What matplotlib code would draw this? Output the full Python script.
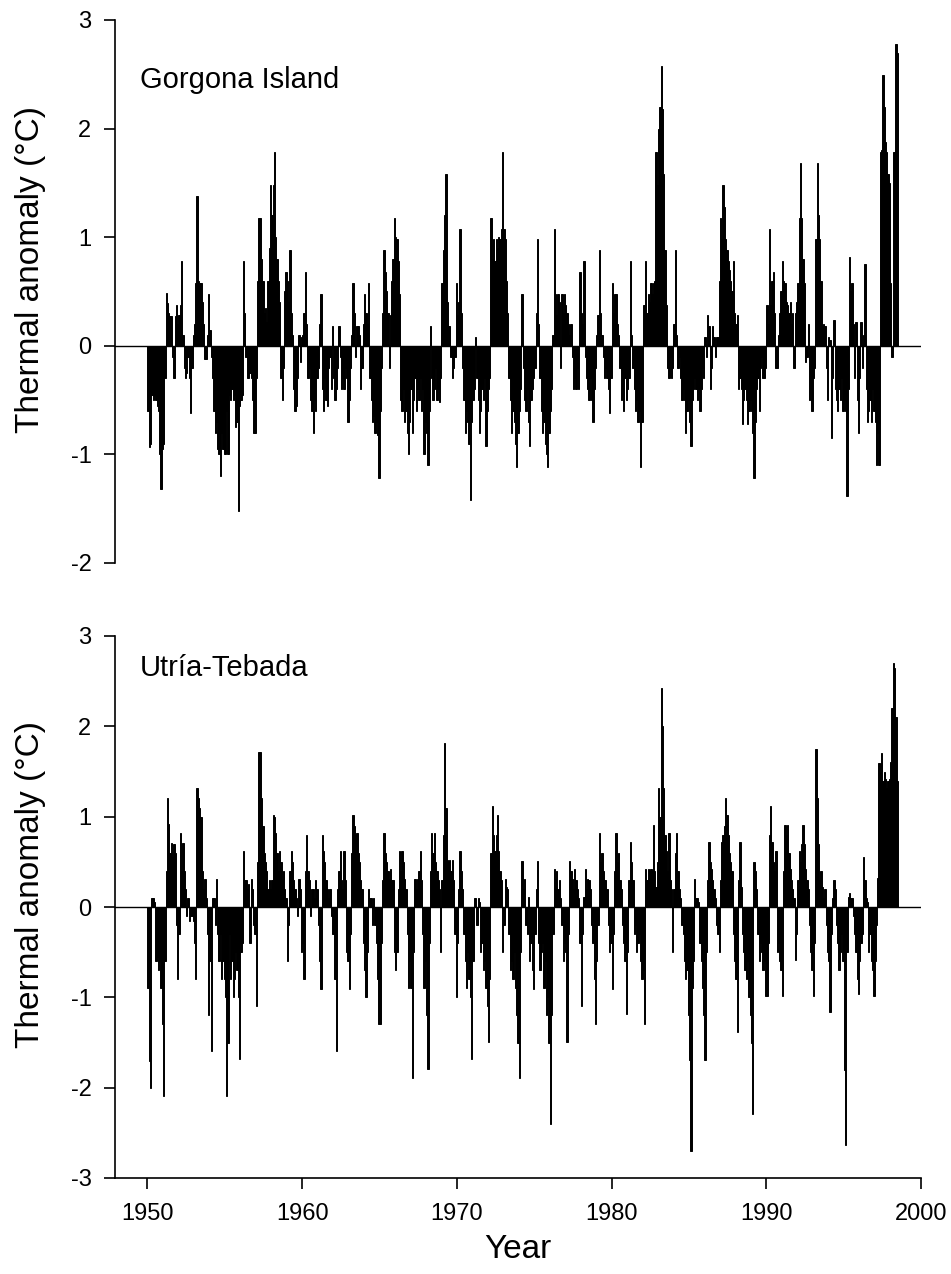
import matplotlib
matplotlib.use("Agg")
import matplotlib.pyplot as plt
import numpy as np

plt.rcParams['font.family'] = ['Liberation Sans', 'DejaVu Sans']

start_year = 1950
year_ticks = [1950, 1960, 1970, 1980, 1990, 2000]
top_yticks = [-2, -1, 0, 1, 2, 3]
bottom_yticks = [-3, -2, -1, 0, 1, 2, 3]
site_names = ["Gorgona Island", "Utría-Tebada"]

# Monthly thermal anomalies (°C), Jan 1950 onward, one row per year
gorgona = [
    -0.60, -0.93, -0.90, -0.45, -0.50, -0.45, -0.50, -0.55, -0.60, -1.00, -1.32, -0.95,  # 1950
    -0.90, -0.30, 0.49, 0.39, 0.30, 0.27, 0.27, -0.10, -0.30, 0.27, 0.38, 0.20,  # 1951
    0.28, 0.38, 0.78, 0.10, -0.20, -0.30, -0.25, -0.10, -0.30, -0.62, -0.20, 0.10,  # 1952
    0.20, 0.58, 1.38, 0.60, 0.58, 0.58, 0.40, 0.20, -0.12, -0.12, 0.10, 0.48,  # 1953
    0.15, -0.10, -0.30, -0.60, -0.80, -0.70, -0.95, -1.00, -1.20, -0.80, -0.95, -1.00,  # 1954
    -1.00, -0.60, -1.00, -0.45, -0.50, -0.40, -0.50, -0.45, -0.75, -0.70, -1.52, -0.55,  # 1955
    -0.50, -0.45, 0.78, 0.30, -0.10, -0.30, -0.30, -0.25, -0.30, -0.50, -0.80, -0.80,  # 1956
    -0.30, 0.60, 1.18, 1.18, 0.80, 0.60, 0.30, 0.35, 0.22, 0.60, 0.90, 1.48,  # 1957
    1.20, 1.48, 1.78, 1.00, 0.80, 0.60, 0.40, -0.30, -0.50, -0.20, 0.50, 0.68,  # 1958
    0.60, 0.40, 0.88, 0.30, 0.10, -0.40, -0.60, -0.55, -0.30, 0.10, -0.15, 0.08,  # 1959
    0.10, 0.30, 0.68, 0.20, -0.30, -0.20, -0.50, -0.60, -0.80, -0.50, -0.60, -0.30,  # 1960
    -0.20, 0.20, 0.48, -0.40, -0.60, -0.30, -0.50, -0.55, -0.20, -0.10, -0.40, 0.18,  # 1961
    -0.30, -0.50, -0.40, -0.20, 0.18, -0.10, -0.40, -0.30, -0.40, -0.20, -0.30, -0.70,  # 1962
    -0.50, -0.20, 0.10, 0.58, 0.30, -0.10, 0.18, 0.18, 0.10, -0.40, -0.20, 0.20,  # 1963
    0.48, 0.30, 0.20, 0.58, -0.30, -0.50, -0.70, -0.65, -0.80, -0.70, -0.82, -1.22,  # 1964
    -0.60, -0.20, 0.30, 0.88, 0.68, 0.50, 0.30, -0.20, 0.28, 0.60, 0.80, 1.18,  # 1965
    1.00, 0.98, 0.78, 0.48, -0.50, -0.60, -0.40, -0.70, -0.60, -0.80, -1.00, -0.70,  # 1966
    -0.40, -0.80, -0.50, -0.30, -0.60, -0.40, -0.50, -0.30, -0.60, -0.40, -1.00, -0.70,  # 1967
    -0.80, -1.10, -0.60, 0.18, -0.30, -0.50, -0.40, -0.20, -0.50, -0.40, -0.52, -0.30,  # 1968
    0.58, 0.88, 1.20, 1.58, 0.40, 0.18, 0.18, -0.10, -0.30, -0.20, -0.10, 0.58,  # 1969
    0.28, 0.40, 1.08, 0.30, -0.20, -0.50, -0.80, -0.60, -0.70, -0.90, -1.42, -0.70,  # 1970
    -0.50, -0.40, 0.08, -0.30, -0.50, -0.80, -0.60, -0.40, -0.50, -0.30, -0.92, -0.60,  # 1971
    -0.40, -0.30, 1.18, 0.80, 0.98, 0.78, 0.98, 0.90, 1.00, 0.98, 1.08, 1.78,  # 1972
    1.08, 0.98, 0.60, 0.30, -0.30, -0.50, -0.80, -0.60, -0.70, -0.90, -1.12, -0.80,  # 1973
    -0.60, -0.40, 0.48, -0.20, -0.50, -0.60, -0.40, -0.70, -0.92, -0.50, -0.40, -0.30,  # 1974
    -0.20, 0.30, 0.98, 0.20, -0.30, -0.60, -0.80, -0.70, -0.90, -1.00, -1.12, -0.80,  # 1975
    -0.60, -0.40, 0.10, 1.08, 0.48, 0.28, 0.48, 0.40, -0.20, 0.48, 0.30, 0.48,  # 1976
    0.38, 0.30, 0.20, 0.10, 0.20, -0.10, -0.40, -0.30, -0.40, -0.20, -0.40, 0.68,  # 1977
    0.30, 0.20, 0.78, -0.10, -0.30, -0.40, -0.50, -0.30, -0.50, -0.70, -0.40, -0.20,  # 1978
    0.10, 0.28, 0.88, 0.30, 0.10, -0.10, -0.30, -0.20, -0.30, -0.40, -0.62, -0.30,  # 1979
    0.58, 0.30, 0.48, 0.48, 0.20, 0.10, -0.20, -0.50, -0.40, -0.60, -0.30, -0.50,  # 1980
    -0.40, -0.30, 0.78, 0.10, -0.20, -0.40, -0.60, -0.50, -0.70, -0.60, -1.12, -0.70,  # 1981
    0.38, 0.38, 0.78, 0.30, 0.48, 0.40, 0.58, 0.48, 0.58, 0.60, 1.78, 1.48,  # 1982
    2.00, 2.20, 2.58, 2.18, 1.58, 0.88, 0.38, -0.20, -0.30, -0.10, -0.30, -0.20,  # 1983
    0.20, 0.88, 0.10, -0.20, -0.10, -0.30, -0.50, -0.40, -0.50, -0.80, -0.60, -0.50,  # 1984
    -0.70, -0.92, -0.50, -0.40, -0.30, -0.40, -0.50, -0.40, -0.60, -0.40, -0.20, -0.30,  # 1985
    0.08, -0.10, 0.28, 0.18, -0.40, -0.20, 0.18, 0.08, -0.10, 0.08, 0.08, 0.60,  # 1986
    1.18, 0.98, 1.48, 1.28, 0.98, 0.88, 0.78, 0.70, 0.60, 0.50, 0.78, 0.30,  # 1987
    0.20, 0.28, -0.40, -0.30, -0.40, -0.72, -0.50, -0.40, -0.50, -0.72, -0.60, -0.50,  # 1988
    -0.60, -0.80, -1.22, -0.70, -0.40, -0.30, -0.60, -0.20, -0.10, -0.30, -0.30, -0.20,  # 1989
    0.38, 0.20, 1.08, 0.38, 0.60, 0.68, 0.30, -0.20, -0.20, 0.10, 0.30, 0.50,  # 1990
    0.78, 0.60, 0.58, 0.40, 0.38, 0.30, 0.40, 0.20, 0.30, -0.20, 0.30, 0.40,  # 1991
    0.58, 1.18, 1.68, 1.18, 0.80, 0.58, -0.15, -0.10, 0.20, -0.50, -0.40, -0.60,  # 1992
    -0.30, -0.20, 0.98, 1.68, 1.20, 0.98, 0.60, 0.18, 0.20, 0.18, -0.20, -0.50,  # 1993
    0.08, 0.05, -0.85, -0.30, 0.24, -0.40, -0.50, -0.60, -0.40, -0.50, -0.30, -0.60,  # 1994
    -0.50, -0.60, -1.38, -0.40, 0.82, 0.50, 0.58, 0.20, -0.30, 0.22, -0.50, -0.80,  # 1995
    -0.30, 0.22, -0.20, 0.10, 0.75, -0.40, -0.70, -0.60, -0.50, -0.70, -0.40, -0.60,  # 1996
    -0.70, -1.10, -0.80, -1.10, 1.78, 1.80, 2.49, 2.20, 1.88, 1.78, 1.58, 1.50,  # 1997
    0.58, -0.10, 1.78, 1.78, 2.78, 2.70,  # 1998
]

utria = [
    -0.90, -1.70, -2.00, 0.10, 0.10, 0.05, -0.60, -0.55, -0.70, -0.60, -0.90, -1.30,  # 1950
    -2.09, -0.60, 0.40, 1.21, 0.92, 0.60, 0.71, 0.55, 0.70, 0.60, -0.20, -0.80,  # 1951
    -0.30, 0.82, 0.40, 0.71, 0.40, 0.20, -0.10, 0.10, -0.15, -0.10, -0.10, -0.15,  # 1952
    -0.40, -0.80, 1.32, 1.21, 1.10, 1.00, 0.40, 0.20, 0.31, 0.10, -0.30, -1.20,  # 1953
    -0.60, -1.59, 0.10, 0.10, -0.20, 0.31, -0.30, -0.60, -0.30, -0.80, -0.60, -0.80,  # 1954
    -1.00, -2.09, -1.50, -0.30, -0.80, -0.60, -1.00, -0.80, -0.50, -0.70, -1.00, -1.68,  # 1955
    -0.50, -0.40, 0.62, 0.30, 0.30, 0.20, 0.25, -0.40, 0.31, 0.20, -0.20, -0.30,  # 1956
    -1.10, 0.50, 1.72, 1.72, 1.21, 0.90, 0.60, 0.50, 0.40, 0.20, 0.30, 0.20,  # 1957
    0.30, 1.02, 1.00, 0.82, 0.60, 0.40, 0.62, 0.50, 0.30, 0.40, 0.20, 0.10,  # 1958
    -0.60, -0.20, 0.40, 0.62, 0.50, 0.30, 0.20, 0.10, -0.10, 0.31, 0.20, -0.50,  # 1959
    -0.40, -0.80, 0.40, 0.80, 0.40, 0.30, -0.10, 0.20, 0.20, 0.10, 0.30, 0.20,  # 1960
    -0.20, -0.60, -0.91, 0.80, 0.62, 0.50, 0.30, 0.20, 0.10, 0.20, -0.10, -0.30,  # 1961
    -0.30, -0.80, -1.59, 0.20, 0.40, 0.62, 0.30, 0.20, 0.62, 0.30, -0.50, -0.60,  # 1962
    -0.91, -0.30, 0.60, 1.02, 0.90, 0.80, 0.82, 0.60, 0.50, 0.30, 0.20, -0.40,  # 1963
    -0.70, -1.00, -0.50, 0.20, 0.10, 0.10, -0.20, 0.10, -0.20, -0.40, -0.80, -1.30,  # 1964
    -1.30, -0.40, 0.30, 0.82, 0.60, 0.50, 0.40, 0.31, 0.42, 0.30, 0.30, -0.50,  # 1965
    -0.70, -0.50, 0.20, 0.62, 0.40, 0.62, 0.50, 0.31, 0.20, -0.30, -0.90, -0.60,  # 1966
    -0.90, -1.89, -0.50, 0.31, 0.20, 0.31, 0.40, 0.62, 0.30, -0.30, -0.90, -0.60,  # 1967
    -1.20, -1.79, -0.40, 0.40, 0.82, 0.60, 0.82, 0.50, 0.40, 0.30, 0.20, -0.50,  # 1968
    0.30, 0.80, 1.82, 1.10, 0.52, 0.50, 0.52, 0.40, 0.52, 0.30, -0.30, -1.00,  # 1969
    -0.40, 0.20, 0.62, 0.40, 0.20, -0.30, -0.60, -0.90, -0.50, -0.80, -1.00, -1.68,  # 1970
    -0.60, 0.10, 0.10, -0.20, 0.10, 0.05, -0.50, -0.40, -0.70, -0.60, -0.90, -1.10,  # 1971
    -1.49, -0.80, 0.60, 1.12, 0.80, 0.62, 0.80, 1.02, 0.62, 0.40, 0.30, -0.50,  # 1972
    -0.20, 0.31, 0.22, 0.20, -0.30, -0.70, -0.60, -0.80, -0.50, -0.90, -1.20, -1.50,  # 1973
    -1.89, -0.50, 0.51, 0.20, 0.31, -0.20, -0.30, 0.11, -0.60, -0.40, -0.70, -0.91,  # 1974
    -0.30, 0.20, 0.51, -0.40, -0.70, -0.50, -0.40, -0.90, -0.60, -1.20, -1.00, -1.50,  # 1975
    -2.40, -1.20, -0.30, 0.42, 0.31, 0.40, 0.20, 0.30, 0.10, -0.20, -0.60, -0.40,  # 1976
    -0.50, -1.49, -0.30, 0.51, 0.40, 0.31, 0.20, 0.42, 0.30, 0.20, 0.10, -0.40,  # 1977
    -1.10, -0.30, 0.11, 0.42, 0.20, 0.31, 0.30, 0.20, -0.20, -0.40, -0.80, -1.30,  # 1978
    -0.60, -0.20, 0.82, 0.50, 0.60, 0.40, 0.30, 0.30, 0.20, -0.20, -0.50, -0.40,  # 1979
    -0.91, -0.30, 0.40, 0.82, 0.50, 0.60, 0.30, 0.20, -0.20, -0.40, -0.60, -1.19,  # 1980
    -0.50, 0.30, 0.72, 0.50, 0.30, -0.30, -0.20, -0.50, -0.40, -0.30, -0.60, -0.80,  # 1981
    -0.70, -1.29, 0.42, 0.30, 0.42, 0.40, 0.42, 0.40, 0.91, 0.40, 0.22, 0.50,  # 1982
    1.32, 1.00, 2.42, 2.00, 1.32, 0.80, 0.62, 0.40, 0.82, 0.30, 0.20, -0.50,  # 1983
    0.20, 0.60, 0.82, 0.40, 0.20, 0.10, -0.20, -0.30, -0.60, -0.80, -0.70, -1.20,  # 1984
    -1.69, -2.70, -0.90, -0.60, 0.31, 0.10, 0.10, 0.05, -0.40, -0.60, -0.90, -1.20,  # 1985
    -1.69, -0.50, 0.30, 0.72, 0.50, 0.42, 0.30, 0.20, 0.10, -0.20, -0.30, -0.50,  # 1986
    0.30, 0.72, 0.80, 0.90, 1.21, 1.02, 0.80, 0.60, 0.50, 0.40, -0.30, -0.60,  # 1987
    -0.80, -1.38, 0.30, 0.72, 0.22, -0.30, -0.50, -0.70, -0.80, -0.60, -1.00, -1.20,  # 1988
    -1.50, -2.29, 0.50, 0.40, 0.20, -0.30, -0.60, -0.40, -0.50, -0.70, -0.60, -0.98,  # 1989
    -0.98, -0.40, 0.80, 1.12, 0.72, 0.50, 0.40, 0.62, -0.50, -0.40, -0.60, -0.70,  # 1990
    -0.98, 0.40, 0.91, 0.80, 0.91, 0.60, 0.42, 0.30, 0.20, 0.10, -0.59, -0.30,  # 1991
    0.30, 0.62, 0.50, 0.70, 0.91, 0.70, 0.42, 0.30, 0.20, -0.20, -0.50, -0.70,  # 1992
    -0.98, -0.40, 1.75, 1.21, 0.70, 0.30, 0.40, 0.22, 0.10, 0.20, -0.20, -0.50,  # 1993
    -0.60, -1.16, -0.30, 0.10, 0.30, 0.20, -0.20, -0.40, -0.70, -0.50, -0.30, -0.60,  # 1994
    -1.80, -2.63, -0.50, 0.11, 0.15, 0.10, 0.10, -0.10, -0.30, -0.50, -0.80, -0.96,  # 1995
    -0.60, -0.40, -0.30, 0.55, 0.30, 0.10, 0.05, -0.50, -0.30, -0.60, -0.70, -0.98,  # 1996
    -0.60, -0.20, 0.32, 1.59, 1.50, 1.70, 1.40, 1.50, 1.42, 1.32, 1.40, 1.42,  # 1997
    1.60, 2.20, 2.70, 2.65, 2.10, 1.40,  # 1998
]

series = [gorgona, utria]

fig = plt.figure(figsize=(9.51, 12.74), dpi=100)
W, H = 951, 1274
ax_boxes = [
    (115 / W, 1 - 563 / H, 806 / W, 543 / H),
    (115 / W, 1 - 1178 / H, 806 / W, 542 / H),
]
ylims = [(-2, 3), (-3, 3)]
yticks_list = [top_yticks, bottom_yticks]
title_y = [0.889, 0.941]
ylabel_y = [1 - 270 / H, 1 - 885 / H]

for k in range(2):
    ax = fig.add_axes(ax_boxes[k])
    vals = np.array(series[k])
    x = start_year + np.arange(len(vals)) / 12.0
    ax.bar(x, vals, width=1 / 12.0, align='edge', color='black',
           edgecolor='black', linewidth=0.7)
    ax.axhline(0, color='black', lw=1.0)
    ax.set_xlim(1947.9, 2000)
    ax.set_ylim(*ylims[k])
    ax.set_yticks(yticks_list[k])
    ax.set_yticklabels([str(t) for t in yticks_list[k]])
    ax.spines['top'].set_visible(False)
    ax.spines['right'].set_visible(False)
    ax.spines['left'].set_linewidth(1.2)
    ax.tick_params(axis='y', direction='out', length=8, width=1.2,
                   labelsize=17, pad=9)
    fig.text(31 / W, ylabel_y[k], "Thermal anomaly (°C)", rotation=90,
             fontsize=24, ha='center', va='center')
    ax.text(0.031, title_y[k], site_names[k], transform=ax.transAxes,
            fontsize=21, ha='left', va='center')
    if k == 0:
        ax.spines['bottom'].set_visible(False)
        ax.tick_params(axis='x', bottom=False, labelbottom=False)
    else:
        ax.spines['bottom'].set_linewidth(1.2)
        ax.set_xticks(year_ticks)
        ax.set_xticklabels([str(t) for t in year_ticks])
        ax.tick_params(axis='x', direction='out', length=8, width=1.2,
                       labelsize=17, pad=10)

fig.text(518 / W, 1 - 1250 / H, "Year", fontsize=24, ha='center', va='center')

fig.savefig("out.png", dpi=100)
